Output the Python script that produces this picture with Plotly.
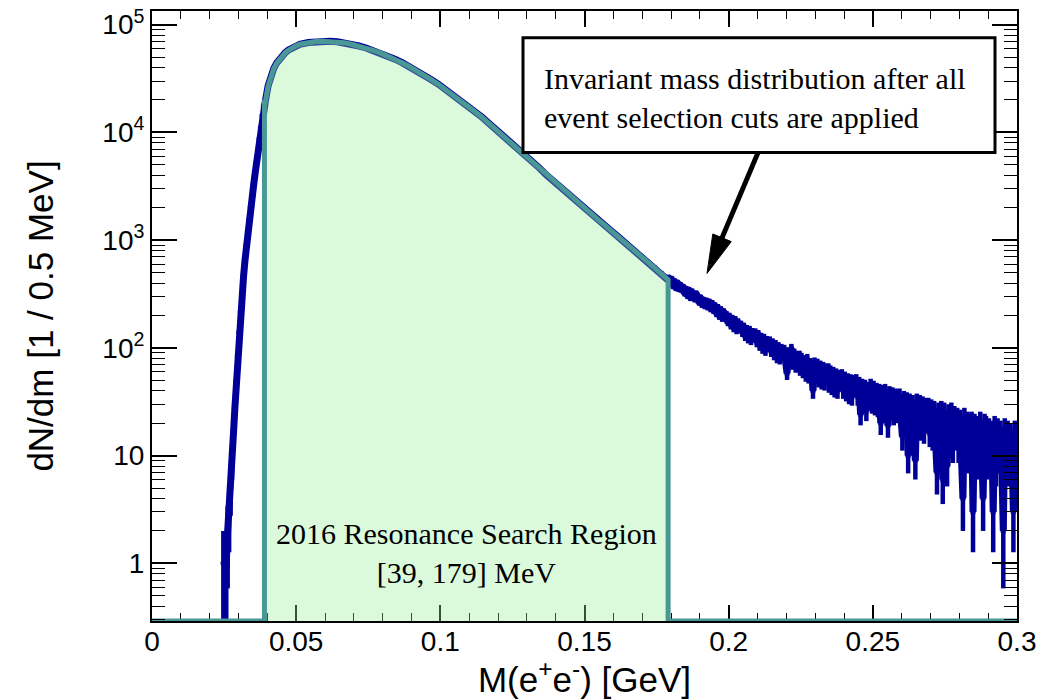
import numpy as np
import plotly.graph_objects as go

# ---------------------------------------------------------------------------
# Invariant mass spectrum, 0.5 MeV bins (counts per bin)
# ---------------------------------------------------------------------------
BIN_WIDTH = 0.0005                 # GeV
REGION = (0.039, 0.179)            # resonance search window [GeV]
X_RANGE = [0.0, 0.3]
Y_RANGE_LOG = [-0.535, 5.127]

# rising edge: consecutive bins, first centre at 24.75 MeV
rise_first_centre = 0.02475
rise_counts = [1, 1, 1, 2, 3, 5, 9, 16, 28, 50, 85, 140, 215, 320,
               460, 650, 900, 1200, 1560, 2000, 2560, 3250, 4150, 5300,
               6800, 8700, 11100, 14300, 17600]

# start of the search window: one bin every 1 MeV
onset_step = 0.001
onset_counts = [19000, 26900, 33900, 39400, 44200, 48200, 51900, 55100,
                57900, 60400, 62500, 64300, 65800]

# rest of the window: one bin every 2.5 MeV from 54.25 MeV, plus the last bin
region_first_centre = 0.05425
region_step = 0.0025
region_counts = [68400, 69800, 70300, 70100, 69300, 68100, 65800, 63400,
                 60800, 57800, 54700, 51300, 47900, 44400, 40900, 37600,
                 34300, 31000, 28100, 25200, 22600, 20200, 17900, 15800,
                 14000, 12200, 10700, 9380, 8170, 7110, 6190, 5400, 4700,
                 4030, 3510, 3060, 2660, 2320, 2030, 1780, 1590, 1400,
                 1220, 1070, 942, 826, 724, 635, 557, 490, 430]

# high-mass tail: consecutive bins from the upper edge of the window
tail_counts = [
    452, 398, 441, 371, 419, 356, 407, 349, 388, 341,
    372, 318, 356, 301, 349, 289, 337, 316, 281, 322,
    301, 263, 295, 251, 281, 244, 276, 238, 270, 229,
    262, 221, 249, 207, 240, 196, 229, 188, 219, 201,
    205, 172, 198, 161, 189, 152, 184, 146, 175, 158,
    166, 138, 159, 127, 151, 121, 148, 117, 141, 128,
    140, 112, 135, 104, 127, 98, 124, 94, 118, 107,
    117, 92, 112, 86, 108, 81, 103, 79, 99, 90,
    97, 78, 58, 92, 75, 99, 71, 89, 67, 84,
    85, 63, 81, 60, 77, 56, 79, 54, 72, 62,
    40, 73, 55, 71, 50, 68, 48, 66, 47, 63,
    64, 45, 61, 43, 59, 41, 57, 40, 55, 46,
    56, 40, 53, 38, 51, 36, 50, 35, 49, 42,
    50, 35, 47, 24, 45, 33, 44, 26, 42, 34,
    45, 30, 43, 29, 41, 28, 40, 20, 39, 30,
    40, 27, 19, 38, 26, 37, 24, 36, 25, 35,
    36, 23, 15, 34, 22, 33, 10, 32, 21, 31,
    20, 9, 32, 19, 31, 18, 30, 17, 29, 21,
    29, 16, 28, 15, 27, 17, 7, 26, 15, 27,
    6, 26, 14, 8, 25, 13, 26, 12, 24, 15,
    23, 12, 22, 11, 4, 23, 12, 21, 10, 20,
    21, 3, 20, 10, 19, 9, 21, 11, 4, 20,
    19, 9, 18, 10, 17, 3, 19, 8, 18, 10,
    17, 8, 2, 18, 9, 17, 8, 16, 10, 3, 17, 12,
]

x_tick_vals = [0, 0.05, 0.1, 0.15, 0.2, 0.25, 0.3]
x_tick_text = ["0", "0.05", "0.1", "0.15", "0.2", "0.25", "0.3"]
y_tick_vals = [1, 10, 100, 1e3, 1e4, 1e5]
y_tick_text = ["1", "10", "10<sup>2</sup>", "10<sup>3</sup>",
               "10<sup>4</sup>", "10<sup>5</sup>"]

# ---------------------------------------------------------------------------
# bin centres
# ---------------------------------------------------------------------------
rise_mass = rise_first_centre + BIN_WIDTH * np.arange(len(rise_counts))
onset_mass = REGION[0] + BIN_WIDTH / 2 + onset_step * np.arange(len(onset_counts))
region_mass = np.append(
    region_first_centre + region_step * np.arange(len(region_counts) - 1),
    REGION[1] - BIN_WIDTH / 2)
tail_mass = REGION[1] + BIN_WIDTH / 2 + BIN_WIDTH * np.arange(len(tail_counts))

window_mass = np.concatenate([onset_mass, region_mass])
window_counts = onset_counts + region_counts

all_mass = np.concatenate([rise_mass, window_mass, tail_mass])
all_counts = np.array(rise_counts + window_counts + tail_counts, dtype=float)
all_err = np.sqrt(all_counts)
marker_sizes = ([6] * len(rise_counts) + [0] * len(window_counts)
                + [6] * len(tail_counts))

floor = 10 ** Y_RANGE_LOG[0]

NAVY = "rgb(0,0,153)"
TEAL = "rgb(74,152,149)"
FILL = "rgba(150,236,150,0.34)"

fig = go.Figure()

# full selected spectrum with Poisson errors
fig.add_trace(go.Scatter(
    x=all_mass, y=all_counts,
    mode="lines+markers",
    line=dict(color=NAVY, width=7),
    marker=dict(color=NAVY, size=marker_sizes, line=dict(width=0)),
    error_y=dict(type="data", array=all_err, visible=True,
                 color=NAVY, thickness=4.5, width=0),
    hoverinfo="skip", showlegend=False,
))

# search-window histogram (empty bins sit on the axis floor)
poly_x = ([X_RANGE[0], REGION[0], REGION[0]] + list(window_mass)
          + [REGION[1], REGION[1], X_RANGE[1]])
poly_y = ([floor, floor, window_counts[0]] + list(window_counts)
          + [window_counts[-1], floor, floor])
fig.add_trace(go.Scatter(
    x=poly_x, y=poly_y, mode="lines",
    line=dict(color=TEAL, width=5),
    fill="toself", fillcolor=FILL,
    hoverinfo="skip", showlegend=False,
))

# ---------------------------------------------------------------------------
# layout
# ---------------------------------------------------------------------------
W, H = 1046, 699
M_L, M_R, M_T, M_B = 152, 29, 5, 78
PW, PH = W - M_L - M_R, H - M_T - M_B


def to_paper(px, py):
    return (px - M_L) / PW, (H - M_B - py) / PH


SANS = "Liberation Sans, Arial, sans-serif"
SERIF = "Liberation Serif, Times New Roman, serif"

y_minor = [k * 10.0 ** n for n in range(-1, 6) for k in range(2, 10)]

fig.update_layout(
    width=W, height=H,
    margin=dict(l=M_L, r=M_R, t=M_T, b=M_B, pad=0),
    paper_bgcolor="white", plot_bgcolor="white",
    showlegend=False,
    font=dict(family=SANS, color="black"),
    xaxis=dict(
        range=X_RANGE, showgrid=False, zeroline=False,
        showline=True, linecolor="black", linewidth=2, mirror="ticks",
        ticks="inside", ticklen=16, tickwidth=1.5, tickcolor="black",
        tickvals=x_tick_vals, ticktext=x_tick_text,
        tickfont=dict(family=SANS, size=28), ticklabelstandoff=-6,
        minor=dict(ticks="inside", ticklen=8, tickwidth=1.3,
                   tickcolor="black", dtick=0.01, tick0=0, showgrid=False),
        layer="below traces",
        title=dict(text="M(e<sup>+</sup>e<sup>-</sup>) [GeV]",
                   font=dict(family=SANS, size=35), standoff=4),
    ),
    yaxis=dict(
        type="log", range=Y_RANGE_LOG, showgrid=False, zeroline=False,
        showline=True, linecolor="black", linewidth=2, mirror="ticks",
        ticks="inside", ticklen=25, tickwidth=1.5, tickcolor="black",
        tickvals=y_tick_vals, ticktext=y_tick_text,
        tickfont=dict(family=SANS, size=28),
        minor=dict(ticks="inside", ticklen=13, tickwidth=1.3,
                   tickcolor="black", tickvals=y_minor, showgrid=False),
        layer="above traces",
        title=dict(text="dN/dm [1 / 0.5 MeV]",
                   font=dict(family=SANS, size=35), standoff=38),
    ),
)

# annotation box with arrow
bx0, by0 = to_paper(523, 148)
bx1, by1 = to_paper(995, 32)
shapes = [dict(type="rect", xref="paper", yref="paper",
               x0=bx0, y0=by0, x1=bx1, y1=by1,
               line=dict(color="black", width=3), fillcolor="white",
               layer="above")]

tail_px = np.array([758.0, 148.0])
tip_px = np.array([707.0, 270.0])
head_len, head_half = 39.0, 10.0
u = (tip_px - tail_px) / np.hypot(*(tip_px - tail_px))
nrm = np.array([u[1], -u[0]])
base = tip_px - head_len * u
sx0, sy0 = to_paper(*tail_px)
sx1, sy1 = to_paper(*(base + 2 * u))
shapes.append(dict(type="line", xref="paper", yref="paper",
                   x0=sx0, y0=sy0, x1=sx1, y1=sy1,
                   line=dict(color="black", width=5), layer="above"))
pts = [tip_px, base + head_half * nrm, base - head_half * nrm]
ppts = [to_paper(*p) for p in pts]
path = "M {:.5f},{:.5f} L {:.5f},{:.5f} L {:.5f},{:.5f} Z".format(
    *ppts[0], *ppts[1], *ppts[2])
shapes.append(dict(type="path", xref="paper", yref="paper", path=path,
                   fillcolor="black", line=dict(color="black", width=1),
                   layer="above"))
fig.update_layout(shapes=shapes)

tx, ty = to_paper(542, 93)
annotations = [
    dict(xref="paper", yref="paper", x=tx, y=ty, xanchor="left",
         yanchor="middle", align="left", showarrow=False,
         text="Invariant mass distribution after all<br>"
              "event selection cuts are applied",
         font=dict(family=SERIF, size=30, color="black")),
    dict(xref="x", yref="paper", x=(REGION[0] + REGION[1]) / 2,
         y=to_paper(0, 552)[1], xanchor="center", yanchor="middle",
         showarrow=False,
         text="2016 Resonance Search Region<br>[{:.0f}, {:.0f}] MeV".format(
             REGION[0] * 1000, REGION[1] * 1000),
         font=dict(family=SERIF, size=30, color="black")),
]
fig.update_layout(annotations=annotations)

fig.write_html("out.html")
